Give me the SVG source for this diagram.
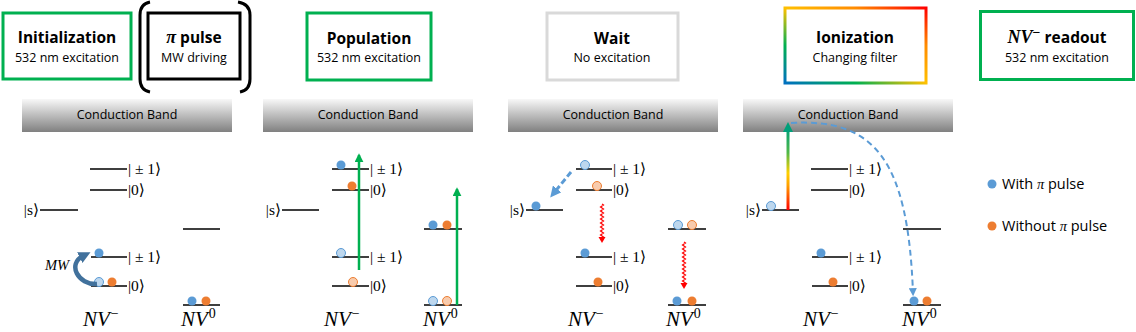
<svg xmlns="http://www.w3.org/2000/svg" width="1136" height="332" viewBox="0 0 1136 332">
<style>
.box{fill:#fff;stroke-width:3}
.g{stroke:#00b050}
.title{font-family:"Open Sans","Liberation Sans",sans-serif;font-weight:bold;font-size:15.5px;text-anchor:middle;fill:#000}
.sub{font-family:"Open Sans","Liberation Sans",sans-serif;font-size:12.5px;text-anchor:middle;fill:#000}
.math{font-family:"Liberation Serif","DejaVu Serif",serif;font-style:italic}
.cbt{font-family:"Open Sans","Liberation Sans",sans-serif;font-size:12.5px;text-anchor:middle;fill:#000}
.lv{stroke:#000;stroke-width:1.5}
.lab{font-family:"Liberation Serif","DejaVu Serif",serif;font-size:15.5px;fill:#000}
.labs{font-family:"Liberation Serif","DejaVu Serif",serif;font-size:15.5px;fill:#000;text-anchor:end}
.nv{font-family:"Liberation Serif","DejaVu Serif",serif;font-style:italic;font-size:21px;fill:#000}
.sup{font-style:normal;font-size:14px}
.b{fill:#5b9bd5}
.o{fill:#ed7d31}
.hb{fill:#bdd7ee;stroke:#5b9bd5;stroke-width:1}
.ho{fill:#f8cbad;stroke:#ed7d31;stroke-width:1}
.green{stroke:#00b050;stroke-width:2.5;fill:none;marker-end:url(#ag)}
.wave{stroke:#ff0000;stroke-width:1.2;fill:none}
.dash{stroke:#5b9bd5;fill:none}
.leg{font-family:"Open Sans","Liberation Sans",sans-serif;font-size:14.5px;fill:#000}
</style>
<defs>
<linearGradient id="cb" x1="0" y1="0" x2="0" y2="1">
<stop offset="0" stop-color="#f8f8f8"/>
<stop offset="1" stop-color="#808080"/>
</linearGradient>
<linearGradient id="rb" x1="0" y1="1" x2="1" y2="0">
<stop offset="0" stop-color="#0070c0"/>
<stop offset="0.25" stop-color="#00b050"/>
<stop offset="0.5" stop-color="#ffc000"/>
<stop offset="0.75" stop-color="#ff8c00"/>
<stop offset="1" stop-color="#ff0000"/>
</linearGradient>
<linearGradient id="ion" gradientUnits="userSpaceOnUse" x1="0" y1="210" x2="0" y2="128">
<stop offset="0" stop-color="#ff0000"/>
<stop offset="0.3" stop-color="#ffa000"/>
<stop offset="0.45" stop-color="#ffd000"/>
<stop offset="0.7" stop-color="#50b848"/>
<stop offset="1" stop-color="#00a07a"/>
</linearGradient>
<marker id="ag" viewBox="0 0 10 10" refX="8" refY="5" markerWidth="9" markerHeight="9" markerUnits="userSpaceOnUse" orient="auto">
<path d="M0,0 L10,5 L0,10 z" fill="#00b050"/>
</marker>
<marker id="ab" viewBox="0 0 10 10" refX="6" refY="5" markerWidth="11" markerHeight="11" markerUnits="userSpaceOnUse" orient="auto">
<path d="M0,0 L10,5 L0,10 z" fill="#5b9bd5"/>
</marker>
<marker id="ab2" viewBox="0 0 10 10" refX="6" refY="5" markerWidth="8" markerHeight="8" markerUnits="userSpaceOnUse" orient="auto">
<path d="M0,0 L10,5 L0,10 z" fill="#5b9bd5"/>
</marker>
<marker id="amw" viewBox="0 0 10 10" refX="3" refY="5" markerWidth="12" markerHeight="12" markerUnits="userSpaceOnUse" orient="auto">
<path d="M0,0 L10,5 L0,10 z" fill="#41719c"/>
</marker>
</defs>

<g id="box-init">
<rect class="box g" x="3" y="13" width="128" height="66"/>
<text class="title" x="67" y="43">Initialization</text>
<text class="sub" x="67" y="62">532 nm excitation</text>
</g>
<g id="box-pi">
<rect class="box" stroke="#000" x="148" y="13" width="92" height="66"/>
<path d="M150,2 Q140,4 140,15 L140,79 Q140,90 150,92 M238,2 Q250,4 250,15 L250,79 Q250,90 240,92" fill="none" stroke="#000" stroke-width="3"/>
<text class="title" x="194" y="43"><tspan class="math" font-size="18">π</tspan> pulse</text>
<text class="sub" x="194" y="62">MW driving</text>
</g>
<g id="box-pop">
<rect class="box g" x="307" y="13" width="124" height="67"/>
<text class="title" x="369" y="44">Population</text>
<text class="sub" x="369" y="62">532 nm excitation</text>
</g>
<g id="box-wait">
<rect class="box" stroke="#d9d9d9" x="547" y="13" width="131" height="67"/>
<text class="title" x="612" y="44">Wait</text>
<text class="sub" x="612" y="62">No excitation</text>
</g>
<g id="box-ion">
<rect class="box" stroke="url(#rb)" stroke-width="4" x="785" y="8" width="141" height="75"/>
<text class="title" x="855" y="43">Ionization</text>
<text class="sub" x="855" y="62">Changing filter</text>
</g>
<g id="box-readout">
<rect class="box g" x="980.5" y="11.5" width="153" height="68"/>
<text class="title" x="1057" y="43"><tspan class="math" font-size="18">NV</tspan><tspan class="math sup" font-size="13" dy="-6">−</tspan><tspan dy="6"> readout</tspan></text>
<text class="sub" x="1057" y="62">532 nm excitation</text>
</g>

<g id="cb1"><rect x="22" y="99" width="210" height="33" fill="url(#cb)"/><text class="cbt" x="127" y="119">Conduction Band</text></g>
<g id="cb2"><rect x="263" y="99" width="210" height="33" fill="url(#cb)"/><text class="cbt" x="368" y="119">Conduction Band</text></g>
<g id="cb3"><rect x="508" y="99" width="210" height="33" fill="url(#cb)"/><text class="cbt" x="613" y="119">Conduction Band</text></g>
<g id="cb4"><rect x="743" y="99" width="210" height="33" fill="url(#cb)"/><text class="cbt" x="848" y="119">Conduction Band</text></g>

<g id="levels1">
<path class="lv" d="M90,169H127M90,190H127M40,210H78M183,229H220M91,257H127M91,286H127M183,305H220"/>
<text class="lab" x="128" y="174">| ± 1⟩</text>
<text class="lab" x="128" y="195">|0⟩</text>
<text class="labs" x="39" y="215">|s⟩</text>
<text class="lab" x="128" y="262">| ± 1⟩</text>
<text class="lab" x="128" y="291">|0⟩</text>
<text class="nv" x="83" y="326">NV<tspan class="sup" dx="1" dy="-8">−</tspan></text>
<text class="nv" x="181" y="326">NV<tspan class="sup" dx="1" dy="-8">0</tspan></text>
</g>
<g id="levels2">
<path class="lv" d="M332,169H369M332,190H369M282,210H319M424,229H462M332,257H369M332,286H369M424,305H462"/>
<text class="lab" x="370" y="174">| ± 1⟩</text>
<text class="lab" x="370" y="195">|0⟩</text>
<text class="labs" x="281" y="215">|s⟩</text>
<text class="lab" x="370" y="262">| ± 1⟩</text>
<text class="lab" x="370" y="291">|0⟩</text>
<text class="nv" x="324" y="326">NV<tspan class="sup" dx="1" dy="-8">−</tspan></text>
<text class="nv" x="423" y="326">NV<tspan class="sup" dx="1" dy="-8">0</tspan></text>
</g>
<g id="levels3">
<path class="lv" d="M576,169H612M576,190H612M526,210H563M668,229H706M576,257H612M576,286H612M668,305H706"/>
<text class="lab" x="613" y="174">| ± 1⟩</text>
<text class="lab" x="613" y="195">|0⟩</text>
<text class="labs" x="525" y="215">|s⟩</text>
<text class="lab" x="613" y="262">| ± 1⟩</text>
<text class="lab" x="613" y="291">|0⟩</text>
<text class="nv" x="568" y="326">NV<tspan class="sup" dx="1" dy="-8">−</tspan></text>
<text class="nv" x="666" y="326">NV<tspan class="sup" dx="1" dy="-8">0</tspan></text>
</g>
<g id="levels4">
<path class="lv" d="M811,169H848M811,190H848M762,210H799M903,229H941M812,257H848M812,286H848M903,305H941"/>
<text class="lab" x="849" y="174">| ± 1⟩</text>
<text class="lab" x="849" y="195">|0⟩</text>
<text class="labs" x="761" y="215">|s⟩</text>
<text class="lab" x="849" y="262">| ± 1⟩</text>
<text class="lab" x="849" y="291">|0⟩</text>
<text class="nv" x="803" y="326">NV<tspan class="sup" dx="1" dy="-8">−</tspan></text>
<text class="nv" x="902" y="326">NV<tspan class="sup" dx="1" dy="-8">0</tspan></text>
</g>

<g id="dots1">
<circle class="b" cx="99" cy="253" r="4.5"/>
<circle class="hb" cx="99" cy="282" r="4.5"/>
<circle class="o" cx="112" cy="282" r="4.5"/>
<circle class="b" cx="192" cy="301" r="4.5"/>
<circle class="o" cx="206" cy="301" r="4.5"/>
</g>
<g id="dots2">
<circle class="b" cx="341" cy="165" r="4.5"/>
<circle class="o" cx="352" cy="186" r="4.5"/>
<circle class="hb" cx="341" cy="253" r="4.5"/>
<circle class="ho" cx="353" cy="282" r="4.5"/>
<circle class="b" cx="433" cy="225" r="4.5"/>
<circle class="o" cx="447" cy="225" r="4.5"/>
<circle class="hb" cx="433" cy="301" r="4.5"/>
<circle class="ho" cx="447" cy="301" r="4.5"/>
</g>
<g id="dots3">
<circle class="hb" cx="585" cy="165" r="4.5"/>
<circle class="ho" cx="597" cy="186" r="4.5"/>
<circle class="b" cx="536" cy="206" r="4.5"/>
<circle class="b" cx="585" cy="253" r="4.5"/>
<circle class="o" cx="598" cy="282" r="4.5"/>
<circle class="hb" cx="678" cy="225" r="4.5"/>
<circle class="ho" cx="692" cy="225" r="4.5"/>
<circle class="b" cx="677" cy="301" r="4.5"/>
<circle class="o" cx="692" cy="301" r="4.5"/>
</g>
<g id="dots4">
<circle class="hb" cx="771" cy="206" r="4.5"/>
<circle class="b" cx="821" cy="253" r="4.5"/>
<circle class="o" cx="833" cy="282" r="4.5"/>
<circle class="b" cx="914" cy="301" r="4.5"/>
<circle class="o" cx="927" cy="301" r="4.5"/>
</g>

<g id="connectors">
<path d="M97,284 C78,285 67,264 83,256" fill="none" stroke="#41719c" stroke-width="4.5" marker-end="url(#amw)"/>
<text class="math" x="45" y="270" font-size="14.5">MW</text>
<line class="green" x1="359" y1="270" x2="359" y2="155"/>
<line class="green" x1="457" y1="305" x2="457" y2="189"/>
<line class="dash" stroke-width="3" stroke-dasharray="6 3" x1="571" y1="172" x2="553" y2="194" marker-end="url(#ab)"/>
<path class="wave" d="M602,204 l1.5,1 l-3,2 l3,2 l-3,2 l3,2 l-3,2 l3,2 l-3,2 l3,2 l-3,2 l3,2 l-3,2 l3,2 l-3,2 l3,2 l-3,2 l3,2 l-1.5,1"/>
<polygon points="598.5,237 605.5,237 602,243" fill="#ff0000"/>
<path class="wave" d="M684,242 l1.5,1 l-3,2 l3,2 l-3,2 l3,2 l-3,2 l3,2 l-3,2 l3,2 l-3,2 l3,2 l-3,2 l3,2 l-3,2 l3,2 l-3,2 l3,2 l-3,2 l3,2 l-3,2 l3,2 l-1.5,1"/>
<polygon points="680.5,283 687.5,283 684,289" fill="#ff0000"/>
<line x1="788" y1="210" x2="788" y2="130" stroke="url(#ion)" stroke-width="3"/>
<polygon points="783,132 793,132 788,122" fill="#00a07a"/>
<path class="dash" stroke-width="2" stroke-dasharray="6 4" d="M791,123 C875,118 908,160 913,293" marker-end="url(#ab2)"/>
</g>

<g id="legend">
<circle class="b" cx="992" cy="184" r="4.5"/>
<text class="leg" x="1002" y="189">With <tspan class="math">π</tspan> pulse</text>
<circle class="o" cx="992" cy="226" r="4.5"/>
<text class="leg" x="1002" y="231">Without <tspan class="math">π</tspan> pulse</text>
</g>
</svg>
